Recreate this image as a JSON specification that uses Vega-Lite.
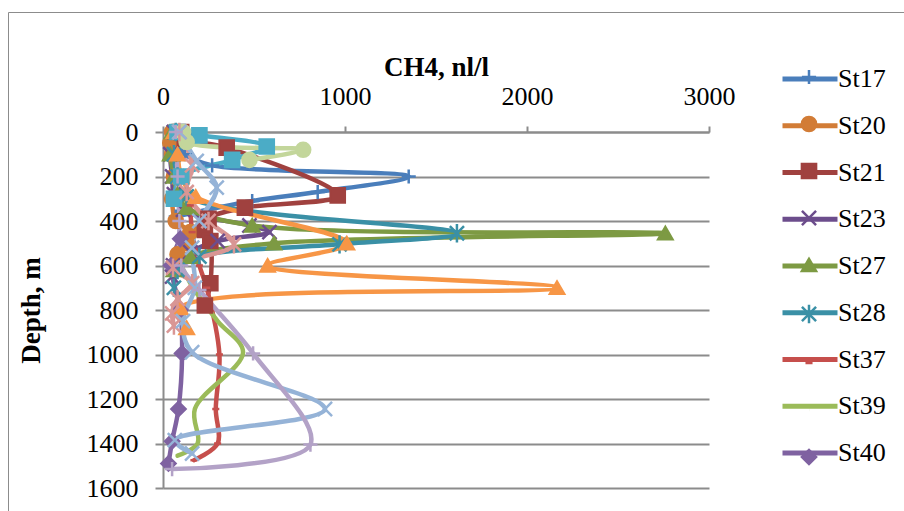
{
 "$schema": "https://vega.github.io/schema/vega-lite/v6.json",
 "width": 546, "height": 356,
 "autosize": {"type": "none"},
 "padding": {"left": 163, "top": 132, "right": 195, "bottom": 23},
 "background": "white",
 "config": {"view": {"stroke": null}, "font": "Liberation Serif",
  "legend": {"labelFont": "Liberation Serif", "labelFontSize": 26, "labelColor": "black", "labelLimit": 0}},
 "datasets": {"rows": [
  {"series":"St17","depth":0,"ch4":60},{"series":"St17","depth":50,"ch4":80},{"series":"St17","depth":100,"ch4":120},{"series":"St17","depth":150,"ch4":270},{"series":"St17","depth":200,"ch4":1350},{"series":"St17","depth":270,"ch4":850},{"series":"St17","depth":310,"ch4":490},{"series":"St17","depth":380,"ch4":70},
  {"series":"St20","depth":0,"ch4":50},{"series":"St20","depth":50,"ch4":40},{"series":"St20","depth":100,"ch4":50},{"series":"St20","depth":200,"ch4":60},{"series":"St20","depth":300,"ch4":50},{"series":"St20","depth":400,"ch4":70},{"series":"St20","depth":450,"ch4":150},{"series":"St20","depth":500,"ch4":130},{"series":"St20","depth":550,"ch4":80},{"series":"St20","depth":600,"ch4":60},
  {"series":"St21","depth":0,"ch4":100},{"series":"St21","depth":30,"ch4":120},{"series":"St21","depth":70,"ch4":350},{"series":"St21","depth":285,"ch4":960},{"series":"St21","depth":340,"ch4":450},{"series":"St21","depth":390,"ch4":250},{"series":"St21","depth":440,"ch4":230},{"series":"St21","depth":490,"ch4":260},{"series":"St21","depth":680,"ch4":260},{"series":"St21","depth":780,"ch4":230},
  {"series":"St23","depth":0,"ch4":60},{"series":"St23","depth":100,"ch4":40},{"series":"St23","depth":200,"ch4":50},{"series":"St23","depth":280,"ch4":60},{"series":"St23","depth":350,"ch4":110},{"series":"St23","depth":420,"ch4":475},{"series":"St23","depth":450,"ch4":585},{"series":"St23","depth":490,"ch4":300},{"series":"St23","depth":540,"ch4":150},{"series":"St23","depth":600,"ch4":55},{"series":"St23","depth":650,"ch4":50},
  {"series":"St27","depth":0,"ch4":50},{"series":"St27","depth":100,"ch4":40},{"series":"St27","depth":200,"ch4":60},{"series":"St27","depth":280,"ch4":80},{"series":"St27","depth":340,"ch4":130},{"series":"St27","depth":420,"ch4":490},{"series":"St27","depth":455,"ch4":2760},{"series":"St27","depth":500,"ch4":610},{"series":"St27","depth":560,"ch4":150},{"series":"St27","depth":620,"ch4":60},
  {"series":"St28","depth":0,"ch4":70},{"series":"St28","depth":100,"ch4":60},{"series":"St28","depth":200,"ch4":80},{"series":"St28","depth":290,"ch4":130},{"series":"St28","depth":455,"ch4":1615},{"series":"St28","depth":505,"ch4":970},{"series":"St28","depth":560,"ch4":200},{"series":"St28","depth":620,"ch4":80},{"series":"St28","depth":700,"ch4":60},
  {"series":"St37","depth":330,"ch4":150},{"series":"St37","depth":450,"ch4":160},{"series":"St37","depth":600,"ch4":200},{"series":"St37","depth":700,"ch4":240},{"series":"St37","depth":1000,"ch4":310},{"series":"St37","depth":1245,"ch4":290},{"series":"St37","depth":1400,"ch4":300},{"series":"St37","depth":1475,"ch4":170},
  {"series":"St39","depth":600,"ch4":100},{"series":"St39","depth":700,"ch4":165},{"series":"St39","depth":850,"ch4":300},{"series":"St39","depth":990,"ch4":440},{"series":"St39","depth":1245,"ch4":175},{"series":"St39","depth":1400,"ch4":190},{"series":"St39","depth":1455,"ch4":80},
  {"series":"St40","depth":480,"ch4":95},{"series":"St40","depth":600,"ch4":45},{"series":"St40","depth":800,"ch4":95},{"series":"St40","depth":995,"ch4":105},{"series":"St40","depth":1245,"ch4":85},{"series":"St40","depth":1390,"ch4":50},{"series":"St40","depth":1490,"ch4":30},
  {"series":"St41","depth":0,"ch4":60},{"series":"St41","depth":100,"ch4":80},{"series":"St41","depth":200,"ch4":100},{"series":"St41","depth":290,"ch4":180},{"series":"St41","depth":500,"ch4":1010},{"series":"St41","depth":600,"ch4":575},{"series":"St41","depth":700,"ch4":2165},{"series":"St41","depth":790,"ch4":95},{"series":"St41","depth":880,"ch4":130},
  {"series":"St42","depth":0,"ch4":80},{"series":"St42","depth":15,"ch4":200},{"series":"St42","depth":65,"ch4":570},{"series":"St42","depth":125,"ch4":380},{"series":"St42","depth":200,"ch4":100},{"series":"St42","depth":300,"ch4":60},
  {"series":"St43","depth":0,"ch4":110},{"series":"St43","depth":45,"ch4":130},{"series":"St43","depth":80,"ch4":770},{"series":"St43","depth":125,"ch4":475},
  {"series":"St44","depth":0,"ch4":90},{"series":"St44","depth":150,"ch4":160},{"series":"St44","depth":270,"ch4":130},{"series":"St44","depth":400,"ch4":250},{"series":"St44","depth":505,"ch4":390},{"series":"St44","depth":610,"ch4":55},{"series":"St44","depth":680,"ch4":160},{"series":"St44","depth":750,"ch4":80},{"series":"St44","depth":815,"ch4":50},{"series":"St44","depth":870,"ch4":60},
  {"series":"St45","depth":0,"ch4":90},{"series":"St45","depth":130,"ch4":185},{"series":"St45","depth":250,"ch4":295},{"series":"St45","depth":400,"ch4":200},{"series":"St45","depth":520,"ch4":160},{"series":"St45","depth":700,"ch4":175},{"series":"St45","depth":850,"ch4":110},{"series":"St45","depth":990,"ch4":160},{"series":"St45","depth":1245,"ch4":890},{"series":"St45","depth":1385,"ch4":65},{"series":"St45","depth":1445,"ch4":160},
  {"series":"St46","depth":0,"ch4":70},{"series":"St46","depth":200,"ch4":80},{"series":"St46","depth":400,"ch4":90},{"series":"St46","depth":600,"ch4":100},{"series":"St46","depth":710,"ch4":200},{"series":"St46","depth":995,"ch4":495},{"series":"St46","depth":1405,"ch4":810},{"series":"St46","depth":1515,"ch4":50}
 ]},
 "data": {"name": "rows"},
 "encoding": {
  "x": {"field": "ch4", "type": "quantitative", "scale": {"domain": [0, 3000], "nice": false},
   "axis": {"orient": "top", "values": [0, 1000, 2000, 3000], "format": "d", "grid": false, "labelFlush": false, "labelOverlap": false,
    "domainColor": "#8C8C8C", "domainWidth": 2, "tickColor": "#8C8C8C", "tickWidth": 2, "tickSize": 6,
    "labelFont": "Liberation Serif", "labelFontSize": 26, "labelColor": "black", "labelPadding": 17,
    "title": "CH4, nl/l", "titleFont": "Liberation Serif", "titleFontSize": 27, "titleFontWeight": "bold", "titleColor": "black",
    "titleY": -57, "titleBaseline": "alphabetic"}},
  "y": {"field": "depth", "type": "quantitative", "scale": {"domain": [0, 1600], "reverse": true, "nice": false},
   "axis": {"values": [0, 200, 400, 600, 800, 1000, 1200, 1400, 1600], "format": "d", "grid": true, "gridColor": "#8C8C8C", "gridWidth": 2,
    "labelFlush": false, "labelOverlap": false,
    "domainColor": "#8C8C8C", "domainWidth": 2, "tickColor": "#8C8C8C", "tickWidth": 2, "tickSize": 8,
    "labelFont": "Liberation Serif", "labelFontSize": 26, "labelColor": "black", "labelPadding": 17,
    "title": "Depth, m", "titleFont": "Liberation Serif", "titleFontSize": 27, "titleFontWeight": "bold", "titleColor": "black",
    "titleX": -124, "titleBaseline": "alphabetic"}}
 },
 "layer": [
  {"mark": {"type": "line", "interpolate": "catmull-rom", "strokeWidth": 4.5, "strokeCap": "round", "strokeJoin": "round"},
   "encoding": {
    "color": {"field": "series", "type": "nominal",
     "scale": {"domain": ["St17","St20","St21","St23","St27","St28","St37","St39","St40","St41","St42","St43","St44","St45","St46"],
      "range": ["#4A7EBB","#D27C36","#A0413F","#6C4D8C","#7D9A43","#3A90A6","#C64F4C","#9BBB59","#7F62A1","#F79646","#4BACC6","#C3D69B","#D99694","#95B3D7","#B3A2C7"]},
     "legend": {"orient": "none", "legendX": 617, "legendY": -83, "title": null,
      "values": ["St17","St20","St21","St23","St27","St28","St37","St39","St40"],
      "symbolType": "stroke", "symbolSize": 3025, "symbolStrokeWidth": 5,
      "labelFont": "Liberation Serif", "labelFontSize": 26, "labelColor": "black", "labelOffset": -2, "labelLimit": 0, "rowPadding": 3.75}},
    "order": {"field": "depth", "type": "quantitative"}}},
  {"mark": {"type": "point", "filled": true, "size": 200, "strokeWidth": 2.5, "opacity": 1},
   "encoding": {
    "color": {"field": "series", "type": "nominal", "legend": null},
    "stroke": {"field": "series", "type": "nominal",
     "scale": {"domain": ["St46","St45","St44","St43","St42","St41","St40","St39","St37","St28","St27","St23","St21","St20","St17"],
      "range": ["#B3A2C7","#95B3D7","#D99694","#C3D69B","#4BACC6","#F79646","#7F62A1","#9BBB59","#C64F4C","#3A90A6","#7D9A43","#6C4D8C","#A0413F","#D27C36","#4A7EBB"]},
     "legend": {"orient": "none", "legendX": -155, "legendY": -120, "title": null, "values": ["St17"],
      "padding": 450, "strokeColor": "#8C8C8C", "symbolOpacity": 0, "symbolSize": 1, "labelExpr": "''",
      "encode": {"legend": {"strokeWidth": {"value": 2}}}}},
    "shape": {"field": "series", "type": "nominal",
     "scale": {"range": ["M-1,0H1M0,-1V1","circle","square","M-1,-1L1,1M-1,1L1,-1","triangle-up","M-1,-1L1,1M-1,1L1,-1M0,-1.3V1.3","M-0.5,0H0.5","M0,0H0.01","diamond","triangle-up","square","circle","M-1,-1L1,1M-1,1L1,-1M0,-1.3V1.3","M-1,-1L1,1M-1,1L1,-1","M-1,0H1M0,-1V1"]},
     "legend": {"orient": "none", "legendX": 633, "legendY": -68, "title": null,
      "values": ["St17","St20","St21","St23","St27","St28","St37","St39","St40"],
      "symbolSize": 200, "symbolStrokeWidth": 2.5, "symbolOpacity": 1,
      "symbolFillColor": {"expr": "scale('color', datum.value)"},
      "symbolStrokeColor": {"expr": "scale('color', datum.value)"},
      "labelFontSize": 26, "labelExpr": "''", "labelColor": "transparent", "labelOpacity": 0, "rowPadding": 21}}}}
 ]
}
